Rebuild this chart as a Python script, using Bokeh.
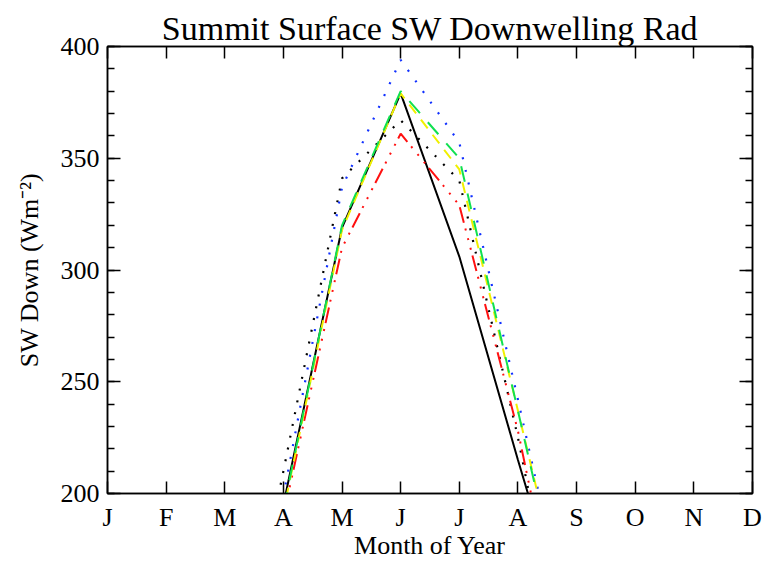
from bokeh.plotting import figure
from bokeh.models import LinearAxis, FixedTicker, Range1d
from bokeh.embed import file_html
from bokeh.resources import INLINE

# Month tick labels (position 0 = January ... 11 = December)
months = ["J", "F", "M", "A", "M", "J", "J", "A", "S", "O", "N", "D"]
month_pos = list(range(12))

# Monthly mean SW downwelling (W m-2), March..September
series_months = [2, 3, 4, 5, 6, 7, 8]
obs_solid = [80, 195, 319, 379, 306, 215, 127]
obs_dotted = [83, 210, 341, 367, 340, 225, 93]
blue_dotted = [85, 199, 337, 394, 357, 242, 124]
red_dashdot = [80, 190, 310, 361, 329, 228, 102]
yellow_dashed = [82, 192, 318, 379, 345, 237, 127]
green_longdash = [84, 193, 320, 380, 350, 237, 122]

y_major = [200, 250, 300, 350, 400]
y_minor = list(range(200, 401, 10))

FONT = "Liberation Serif"

p = figure(width=764, height=562, output_backend="svg", toolbar_location=None,
           x_range=Range1d(0, 11), y_range=Range1d(200, 400),
           min_border_left=107, min_border_right=12,
           min_border_top=46, min_border_bottom=68)

p.title.text = "Summit Surface SW Downwelling Rad"
p.title.align = "center"
p.title.text_font = FONT
p.title.text_font_size = "34px"
p.title.text_font_style = "normal"
p.title.text_color = "black"
p.title.standoff = 0

p.grid.visible = False
p.background_fill_color = "white"
p.border_fill_color = "white"
p.outline_line_color = "black"
p.outline_line_width = 1.5

xticker = FixedTicker(ticks=month_pos)
yticker = FixedTicker(ticks=y_major, minor_ticks=y_minor)

def hide_labels(ax):
    # tick marks only, no tick labels on the mirrored axes
    ax.major_label_text_color = None
    ax.major_label_text_alpha = 0
    ax.major_label_text_font_size = "1px"
    ax.major_label_standoff = 0

def style_x(ax, labels):
    ax.ticker = xticker
    ax.major_tick_in = 12
    ax.major_tick_out = 0
    ax.minor_tick_in = 0
    ax.minor_tick_out = 0
    ax.major_tick_line_width = 1.5
    ax.axis_line_width = 1.5
    ax.major_tick_line_color = "black"
    ax.axis_line_color = "black"
    if labels:
        ax.major_label_overrides = {i: m for i, m in zip(month_pos, months)}
        ax.major_label_text_font = FONT
        ax.major_label_text_font_size = "26px"
        ax.major_label_text_color = "black"
        ax.major_label_standoff = 9
    else:
        hide_labels(ax)

def style_y(ax, labels):
    ax.ticker = yticker
    ax.major_tick_in = 13
    ax.major_tick_out = 0
    ax.minor_tick_in = 7
    ax.minor_tick_out = 0
    ax.major_tick_line_width = 1.5
    ax.minor_tick_line_width = 1.5
    ax.axis_line_width = 1.5
    ax.major_tick_line_color = "black"
    ax.minor_tick_line_color = "black"
    ax.axis_line_color = "black"
    if labels:
        ax.major_label_text_font = FONT
        ax.major_label_text_font_size = "26px"
        ax.major_label_text_color = "black"
        ax.major_label_standoff = 8
    else:
        hide_labels(ax)

style_x(p.xaxis[0], True)
p.xaxis[0].axis_label = "Month of Year"
p.xaxis[0].axis_label_text_font = FONT
p.xaxis[0].axis_label_text_font_size = "26px"
p.xaxis[0].axis_label_text_font_style = "normal"
p.xaxis[0].axis_label_text_color = "black"
p.xaxis[0].axis_label_standoff = -4

style_y(p.yaxis[0], True)
p.yaxis[0].axis_label = "SW Down (Wm\u207b\u00b2)"
p.yaxis[0].axis_label_text_font = FONT
p.yaxis[0].axis_label_text_font_size = "26px"
p.yaxis[0].axis_label_text_font_style = "normal"
p.yaxis[0].axis_label_text_color = "black"
p.yaxis[0].axis_label_standoff = 14

top_axis = LinearAxis()
style_x(top_axis, False)
p.add_layout(top_axis, "above")

right_axis = LinearAxis()
style_y(right_axis, False)
p.add_layout(right_axis, "right")

# Curves
p.line(series_months, obs_dotted, line_color="black", line_width=2.2, line_dash="2 10")
p.line(series_months, blue_dotted, line_color="#1030ff", line_width=2.2, line_dash="2 11")
p.line(series_months, obs_solid, line_color="black", line_width=2)
p.line(series_months, red_dashdot, line_color="#ff1010", line_width=2,
       line_dash="16 6 2 8 2 8 2 6")
p.line(series_months, yellow_dashed, line_color="#f0f000", line_width=2, line_dash="11 8")
p.line(series_months, green_longdash, line_color="#10e050", line_width=2, line_dash="16 12")

open("out.html", "w").write(file_html(p, INLINE))
